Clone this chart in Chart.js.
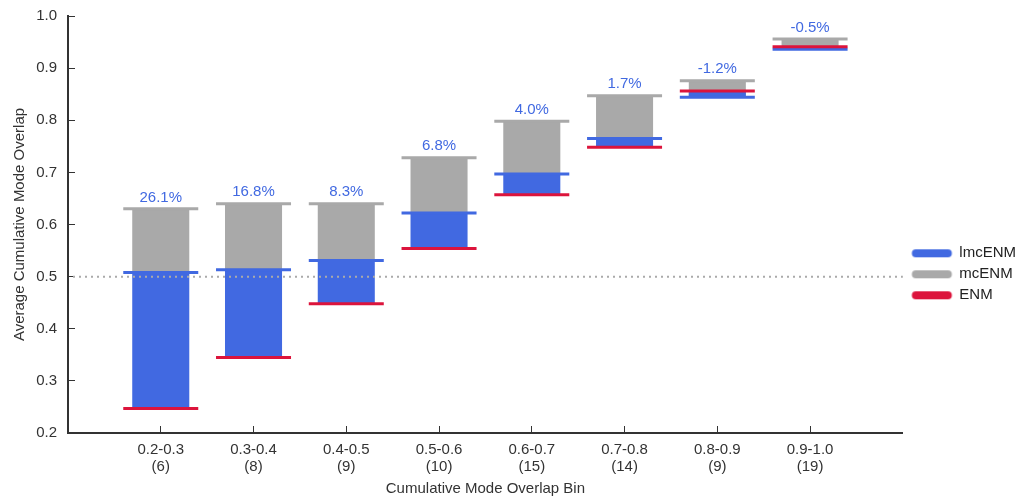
<!DOCTYPE html>
<html>
<head>
<meta charset="utf-8">
<script src="https://cdn.jsdelivr.net/npm/chart.js@4.4.0/dist/chart.umd.min.js"></script>
<style>
  body { margin: 0; background: #fff; }
  canvas { display: block; }
</style>
</head>
<body>
<canvas id="chart" width="1031" height="499"></canvas>
<script>
// data
const bins = ['0.2-0.3', '0.3-0.4', '0.4-0.5', '0.5-0.6', '0.6-0.7', '0.7-0.8', '0.8-0.9', '0.9-1.0'];
const binCounts = ['(6)', '(8)', '(9)', '(10)', '(15)', '(14)', '(9)', '(19)'];
const enm = [0.247, 0.345, 0.448, 0.554, 0.657, 0.748, 0.856, 0.941];
const lmcEnm = [0.508, 0.513, 0.531, 0.622, 0.697, 0.765, 0.844, 0.936];
const mcEnm = [0.630, 0.640, 0.640, 0.728, 0.798, 0.847, 0.876, 0.956];
const gainLabels = ['26.1%', '16.8%', '8.3%', '6.8%', '4.0%', '1.7%', '-1.2%', '-0.5%'];
const refLevel = 0.5;

const BLUE = '#4169e1';
const GRAY = '#a9a9a9';
const RED = '#dc143c';
const FONT = '"Liberation Sans", Arial, sans-serif';

Chart.defaults.font.family = FONT;
Chart.defaults.color = '#333';

// empty slot at each end of the axis, like the original
const pad = arr => [null, ...arr, null];
const labels = ['', ...bins.map((b, i) => [b, binCounts[i]]), ''];

// rounded legend swatch, shifted a little right inside its box
function swatch(color) {
  const c = document.createElement('canvas');
  c.width = 48; c.height = 12;
  const g = c.getContext('2d');
  g.strokeStyle = color;
  g.lineWidth = 8;
  g.lineCap = 'round';
  g.beginPath();
  g.moveTo(9.5, 6);
  g.lineTo(41.5, 6);
  g.stroke();
  return c;
}

const marker = (label, data, color) => ({
  type: 'line',
  label: label,
  data: pad(data),
  showLine: false,
  pointStyle: 'line',
  pointRadius: 37.5,
  pointHoverRadius: 37.5,
  pointBorderWidth: 3,
  borderWidth: 0,
  borderColor: color,
  backgroundColor: color
});

const extras = {
  id: 'extras',
  afterDatasetsDraw(chart) {
    const {ctx, chartArea, scales: {x, y}} = chart;
    ctx.save();
    // dotted reference line
    const yr = y.getPixelForValue(refLevel);
    ctx.strokeStyle = '#aaaaaa';
    ctx.lineWidth = 2;
    ctx.setLineDash([2, 4]);
    ctx.beginPath();
    ctx.moveTo(chartArea.left + 5, yr);
    ctx.lineTo(chartArea.right, yr);
    ctx.stroke();
    ctx.setLineDash([]);
    // change labels above each bin
    ctx.fillStyle = BLUE;
    ctx.font = '15px ' + FONT;
    ctx.textAlign = 'center';
    ctx.textBaseline = 'middle';
    gainLabels.forEach((t, i) => {
      ctx.fillText(t, x.getPixelForValue(i + 1), y.getPixelForValue(mcEnm[i]) - 11.5);
    });
    ctx.restore();
  }
};

new Chart(document.getElementById('chart'), {
  type: 'bar',
  data: {
    labels: labels,
    datasets: [
      marker('ENM', enm, RED),
      marker('lmcENM', lmcEnm, BLUE),
      marker('mcENM', mcEnm, GRAY),
      {
        label: 'lmcENM gain',
        data: pad(enm.map((v, i) => [v, lmcEnm[i]])),
        backgroundColor: BLUE,
        grouped: false,
        categoryPercentage: 1,
        barPercentage: 0.615
      },
      {
        label: 'mcENM gain',
        data: pad(lmcEnm.map((v, i) => [v, mcEnm[i]])),
        backgroundColor: GRAY,
        grouped: false,
        categoryPercentage: 1,
        barPercentage: 0.615
      }
    ]
  },
  options: {
    responsive: false,
    animation: false,
    events: [],
    layout: { autoPadding: false, padding: { top: 16, right: 5, bottom: 0, left: 0 } },
    scales: {
      x: {
        offset: false,
        grid: {
          offset: false,
          drawOnChartArea: false,
          tickLength: -7,
          tickColor: c => (c.index === 0 || c.index === labels.length - 1) ? 'rgba(0,0,0,0)' : '#333'
        },
        border: { color: '#333', width: 2 },
        ticks: {
          autoSkip: false,
          maxRotation: 0,
          padding: 15,
          color: '#333',
          font: { size: 15, lineHeight: 1.15 }
        },
        title: {
          display: true,
          text: 'Cumulative Mode Overlap Bin',
          color: '#333',
          font: { size: 15 },
          padding: { top: 0, bottom: 1 }
        },
        afterFit: s => { s.height = 66; }
      },
      y: {
        min: 0.2,
        max: 1.0,
        grid: { drawOnChartArea: false, tickLength: -7, tickColor: '#333' },
        border: { color: '#333', width: 2 },
        ticks: {
          stepSize: 0.1,
          padding: 18,
          color: '#333',
          font: { size: 15 },
          callback: v => v.toFixed(1)
        },
        title: {
          display: true,
          text: 'Average Cumulative Mode Overlap',
          color: '#333',
          font: { size: 15 },
          padding: { top: 11, bottom: 0 }
        },
        afterFit: s => { s.width = 68; s.paddingTop = 0; s.paddingBottom = 0; }
      }
    },
    plugins: {
      tooltip: { enabled: false },
      legend: {
        position: 'right',
        title: { display: true, text: '', font: { size: 10 }, padding: { top: 0, bottom: 21.6 } },
        labels: {
          usePointStyle: true,
          pointStyleWidth: 43,
          padding: 6,
          color: '#222',
          font: { size: 15 },
          generateLabels: () => [
            { text: 'lmcENM', pointStyle: swatch(BLUE), lineWidth: 0, fontColor: '#222', datasetIndex: 1 },
            { text: 'mcENM', pointStyle: swatch(GRAY), lineWidth: 0, fontColor: '#222', datasetIndex: 2 },
            { text: 'ENM', pointStyle: swatch(RED), lineWidth: 0, fontColor: '#222', datasetIndex: 0 }
          ]
        }
      }
    }
  },
  plugins: [extras]
});
</script>
</body>
</html>
